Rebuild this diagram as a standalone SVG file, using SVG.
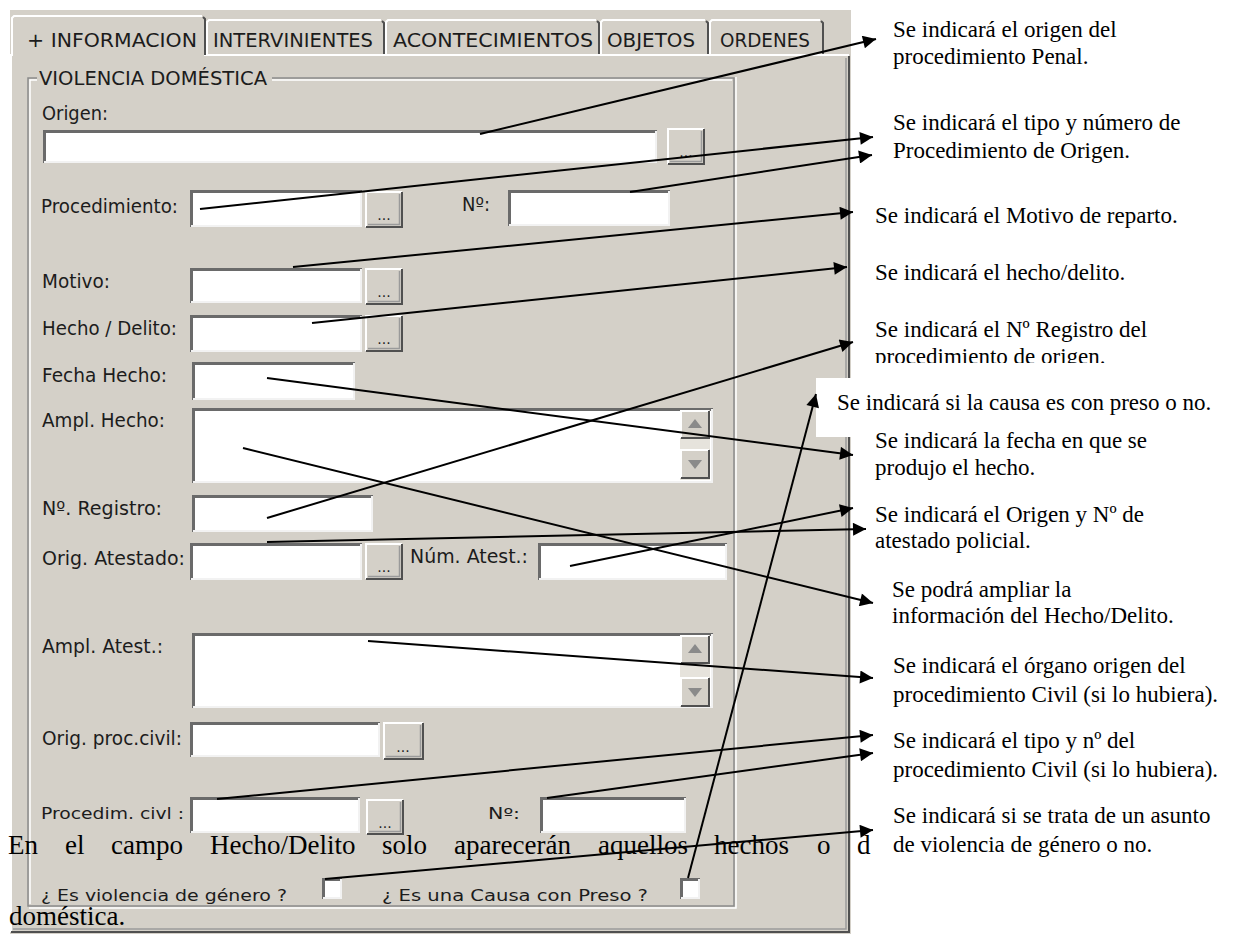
<svg xmlns="http://www.w3.org/2000/svg" width="1234" height="939" viewBox="0 0 1234 939">
  <defs>
    <style>
      .face { fill: #D4D0C8; }
      .ui { font-family: "DejaVu Sans", Tahoma, sans-serif; font-size: 19px; fill: #1c1c1c; }
      .ui-sm { font-family: "DejaVu Sans", Tahoma, sans-serif; font-size: 16px; fill: #1c1c1c; }
      .dots { font-family: "DejaVu Sans", Tahoma, sans-serif; font-size: 14px; fill: #222; text-anchor: middle; }
      .note { font-family: "Liberation Serif", "Times New Roman", serif; font-size: 23px; fill: #000; }
      .body { font-family: "Liberation Serif", "Times New Roman", serif; font-size: 27px; fill: #000; }
      .fw { fill: #ffffff; }
      .sunk-dk { fill: none; stroke: #6a6a6a; stroke-width: 3; }
      .sunk-lt { fill: none; stroke: #f2f2f2; stroke-width: 2; }
      .rais-lt { fill: none; stroke: #ffffff; stroke-width: 2; }
      .rais-dk { fill: none; stroke: #505050; stroke-width: 2; }
      .rais-md { fill: none; stroke: #9a9a9a; stroke-width: 1.5; }
      .etch-dk { fill: none; stroke: #8a8a8a; stroke-width: 1.5; }
      .etch-lt { fill: none; stroke: #ffffff; stroke-width: 1.5; }
      .conn { fill: none; stroke: #000; stroke-width: 2; marker-end: url(#arrow); }
      .track { fill: #E6E3DC; }
      .tri { fill: #8a8a8a; }
    </style>
    <marker id="arrow" viewBox="0 0 10 10" refX="10" refY="5" markerUnits="userSpaceOnUse" markerWidth="18" markerHeight="13" orient="auto">
      <path d="M0,0 L10,5 L0,10 z" fill="#000"/>
    </marker>
    <clipPath id="clip-reg">
      <rect x="860" y="340" width="374" height="23"/>
    </clipPath>
  </defs>

  <rect x="0" y="0" width="1234" height="939" fill="#ffffff"/>

  <!-- tab control window -->
  <g id="window">
    <rect class="face" x="10" y="10" width="841" height="924"/>
    <!-- tab page frame -->
    <path class="rais-lt" d="M11,932 V55 H12 M204,55 H849"/>
    <path class="rais-dk" d="M849,56 V932 H11"/>
    <path class="rais-md" d="M846,58 V929 H13"/>
  </g>

  <!-- tab headers -->
  <g id="tab-informacion">
    <path class="rais-lt" d="M12,56 V18 L14,16 H202"/>
    <path class="rais-dk" d="M203,17 L205,19 V55"/>
    <text class="ui" x="27" y="47" textLength="170" lengthAdjust="spacingAndGlyphs">+ INFORMACION</text>
  </g>
  <g id="tab-intervinientes">
    <path class="rais-lt" d="M207,54 V22 L209,20 H381"/>
    <path class="rais-dk" d="M382,21 L384,23 V54"/>
    <text class="ui" x="213" y="47" textLength="160" lengthAdjust="spacingAndGlyphs">INTERVINIENTES</text>
  </g>
  <g id="tab-acontecimientos">
    <path class="rais-lt" d="M386,54 V22 L388,20 H596"/>
    <path class="rais-dk" d="M597,21 L599,23 V54"/>
    <text class="ui" x="393" y="47" textLength="200" lengthAdjust="spacingAndGlyphs">ACONTECIMIENTOS</text>
  </g>
  <g id="tab-objetos">
    <path class="rais-lt" d="M601,54 V22 L603,20 H705"/>
    <path class="rais-dk" d="M706,21 L708,23 V54"/>
    <text class="ui" x="607" y="47" textLength="88" lengthAdjust="spacingAndGlyphs">OBJETOS</text>
  </g>
  <g id="tab-ordenes">
    <path class="rais-lt" d="M710,54 V22 L712,20 H820"/>
    <path class="rais-dk" d="M821,21 L823,23 V54"/>
    <text class="ui" x="720" y="47" textLength="90" lengthAdjust="spacingAndGlyphs">ORDENES</text>
  </g>

  <!-- group box -->
  <g id="group-violencia">
    <path class="etch-dk" d="M37,78 H28 V906 H734 V78 H272"/>
    <path class="etch-lt" d="M37,80 H30 V904 M29,908 H736 V77 M272,80 H732"/>
    <text class="ui" x="39" y="85" textLength="228" lengthAdjust="spacingAndGlyphs">VIOLENCIA DOMÉSTICA</text>
  </g>

  <!-- Origen -->
  <g id="field-origen">
    <text class="ui" x="42" y="120" textLength="66" lengthAdjust="spacingAndGlyphs">Origen:</text>
    <rect class="fw" x="43" y="130" width="614" height="33"/>
    <path class="sunk-dk" d="M44.5,163 V131.5 H657"/>
    <path class="sunk-lt" d="M44,162 H656 V131"/>
    <rect class="face" x="667" y="128" width="38" height="37"/>
    <path class="rais-lt" d="M668,164 V129 H704"/>
    <path class="rais-dk" d="M668,164 H704 V129"/>
    <path class="rais-md" d="M670,161.5 H701.5 V131"/>
    <text class="dots" x="686" y="157">...</text>
  </g>

  <!-- Procedimiento / Nº -->
  <g id="field-procedimiento">
    <text class="ui" x="41" y="213" textLength="137" lengthAdjust="spacingAndGlyphs">Procedimiento:</text>
    <rect class="fw" x="190" y="190" width="172" height="37"/>
    <path class="sunk-dk" d="M191.5,227 V191.5 H362"/>
    <path class="sunk-lt" d="M191,226 H361 V191"/>
    <rect class="face" x="365" y="191" width="38" height="37"/>
    <path class="rais-lt" d="M366,227 V192 H402"/>
    <path class="rais-dk" d="M366,227 H402 V192"/>
    <path class="rais-md" d="M368,224.5 H399.5 V194"/>
    <text class="dots" x="384" y="220">...</text>
  </g>
  <g id="field-procedimiento-num">
    <text class="ui" x="462" y="211" textLength="28" lengthAdjust="spacingAndGlyphs">Nº:</text>
    <rect class="fw" x="508" y="190" width="162" height="36"/>
    <path class="sunk-dk" d="M509.5,226 V191.5 H670"/>
    <path class="sunk-lt" d="M509,225 H669 V191"/>
  </g>

  <!-- Motivo -->
  <g id="field-motivo">
    <text class="ui" x="42" y="288" textLength="68" lengthAdjust="spacingAndGlyphs">Motivo:</text>
    <rect class="fw" x="190" y="268" width="172" height="35"/>
    <path class="sunk-dk" d="M191.5,303 V269.5 H362"/>
    <path class="sunk-lt" d="M191,302 H361 V269"/>
    <rect class="face" x="365" y="268" width="38" height="37"/>
    <path class="rais-lt" d="M366,304 V269 H402"/>
    <path class="rais-dk" d="M366,304 H402 V269"/>
    <path class="rais-md" d="M368,301.5 H399.5 V271"/>
    <text class="dots" x="384" y="297">...</text>
  </g>

  <!-- Hecho / Delito -->
  <g id="field-hecho">
    <text class="ui" x="42" y="335" textLength="135" lengthAdjust="spacingAndGlyphs">Hecho / Delito:</text>
    <rect class="fw" x="190" y="315" width="172" height="37"/>
    <path class="sunk-dk" d="M191.5,352 V316.5 H362"/>
    <path class="sunk-lt" d="M191,351 H361 V316"/>
    <rect class="face" x="365" y="315" width="38" height="37"/>
    <path class="rais-lt" d="M366,351 V316 H402"/>
    <path class="rais-dk" d="M366,351 H402 V316"/>
    <path class="rais-md" d="M368,348.5 H399.5 V318"/>
    <text class="dots" x="384" y="344">...</text>
  </g>

  <!-- Fecha Hecho -->
  <g id="field-fecha">
    <text class="ui" x="42" y="382" textLength="125" lengthAdjust="spacingAndGlyphs">Fecha Hecho:</text>
    <rect class="fw" x="192" y="362" width="163" height="38"/>
    <path class="sunk-dk" d="M193.5,400 V363.5 H355"/>
    <path class="sunk-lt" d="M193,399 H354 V363"/>
  </g>

  <!-- Ampl. Hecho -->
  <g id="field-ampl-hecho">
    <text class="ui" x="42" y="427" textLength="123" lengthAdjust="spacingAndGlyphs">Ampl. Hecho:</text>
    <rect class="fw" x="192" y="408" width="521" height="75"/>
    <path class="sunk-dk" d="M193.5,483 V409.5 H713"/>
    <path class="sunk-lt" d="M193,482 H712 V409"/>
    <rect class="track" x="680" y="410" width="30" height="70"/>
    <rect class="face" x="680" y="410" width="30" height="29"/>
    <path class="rais-lt" d="M681,438 V411 H709"/>
    <path class="rais-dk" d="M681,438 H709 V411"/>
    <path class="tri" d="M695,419 L688,428 H702 z"/>
    <rect class="face" x="680" y="449" width="30" height="30"/>
    <path class="rais-lt" d="M681,478 V450 H709"/>
    <path class="rais-dk" d="M681,478 H709 V450"/>
    <path class="tri" d="M695,469 L688,460 H702 z"/>
  </g>

  <!-- Nº. Registro -->
  <g id="field-registro">
    <text class="ui" x="42" y="515" textLength="120" lengthAdjust="spacingAndGlyphs">Nº. Registro:</text>
    <rect class="fw" x="192" y="495" width="181" height="37"/>
    <path class="sunk-dk" d="M193.5,532 V496.5 H373"/>
    <path class="sunk-lt" d="M193,531 H372 V496"/>
  </g>

  <!-- Orig. Atestado / Núm. Atest. -->
  <g id="field-orig-atestado">
    <text class="ui" x="42" y="565" textLength="143" lengthAdjust="spacingAndGlyphs">Orig. Atestado:</text>
    <rect class="fw" x="190" y="543" width="172" height="37"/>
    <path class="sunk-dk" d="M191.5,580 V544.5 H362"/>
    <path class="sunk-lt" d="M191,579 H361 V544"/>
    <rect class="face" x="365" y="543" width="38" height="37"/>
    <path class="rais-lt" d="M366,579 V544 H402"/>
    <path class="rais-dk" d="M366,579 H402 V544"/>
    <path class="rais-md" d="M368,576.5 H399.5 V546"/>
    <text class="dots" x="384" y="572">...</text>
  </g>
  <g id="field-num-atestado">
    <text class="ui" x="410" y="563" textLength="118" lengthAdjust="spacingAndGlyphs">Núm. Atest.:</text>
    <rect class="fw" x="538" y="543" width="189" height="37"/>
    <path class="sunk-dk" d="M539.5,580 V544.5 H727"/>
    <path class="sunk-lt" d="M539,579 H726 V544"/>
  </g>

  <!-- Ampl. Atest. -->
  <g id="field-ampl-atest">
    <text class="ui" x="42" y="653" textLength="121" lengthAdjust="spacingAndGlyphs">Ampl. Atest.:</text>
    <rect class="fw" x="192" y="633" width="521" height="75"/>
    <path class="sunk-dk" d="M193.5,708 V634.5 H713"/>
    <path class="sunk-lt" d="M193,707 H712 V634"/>
    <rect class="track" x="680" y="635" width="30" height="72"/>
    <rect class="face" x="680" y="635" width="30" height="29"/>
    <path class="rais-lt" d="M681,663 V636 H709"/>
    <path class="rais-dk" d="M681,663 H709 V636"/>
    <path class="tri" d="M695,644 L688,653 H702 z"/>
    <rect class="face" x="680" y="677" width="30" height="30"/>
    <path class="rais-lt" d="M681,706 V678 H709"/>
    <path class="rais-dk" d="M681,706 H709 V678"/>
    <path class="tri" d="M695,697 L688,688 H702 z"/>
  </g>

  <!-- Orig. proc. civil -->
  <g id="field-orig-proc-civil">
    <text class="ui" x="42" y="745" textLength="140" lengthAdjust="spacingAndGlyphs">Orig. proc.civil:</text>
    <rect class="fw" x="190" y="722" width="190" height="35"/>
    <path class="sunk-dk" d="M191.5,757 V723.5 H380"/>
    <path class="sunk-lt" d="M191,756 H379 V723"/>
    <rect class="face" x="383" y="722" width="41" height="38"/>
    <path class="rais-lt" d="M384,759 V723 H423"/>
    <path class="rais-dk" d="M384,759 H423 V723"/>
    <path class="rais-md" d="M386,756.5 H420.5 V725"/>
    <text class="dots" x="403" y="752">...</text>
  </g>

  <!-- Procedim. civil / Nº -->
  <g id="field-procedim-civil">
    <text class="ui-sm" x="41" y="819" textLength="143" lengthAdjust="spacingAndGlyphs">Procedim. civl :</text>
    <rect class="fw" x="190" y="797" width="170" height="36"/>
    <path class="sunk-dk" d="M191.5,833 V798.5 H360"/>
    <path class="sunk-lt" d="M191,832 H359 V798"/>
    <rect class="face" x="366" y="799" width="38" height="36"/>
    <path class="rais-lt" d="M367,834 V800 H403"/>
    <path class="rais-dk" d="M367,834 H403 V800"/>
    <path class="rais-md" d="M369,831.5 H400.5 V802"/>
    <text class="dots" x="385" y="828">...</text>
  </g>
  <g id="field-procedim-civil-num">
    <text class="ui-sm" x="488" y="819" textLength="32" lengthAdjust="spacingAndGlyphs">Nº:</text>
    <rect class="fw" x="540" y="797" width="146" height="36"/>
    <path class="sunk-dk" d="M541.5,833 V798.5 H686"/>
    <path class="sunk-lt" d="M541,832 H685 V798"/>
  </g>

  <!-- check boxes -->
  <g id="check-violencia">
    <text class="ui-sm" x="41" y="901" textLength="246" lengthAdjust="spacingAndGlyphs">¿ Es violencia de género ?</text>
    <rect class="fw" x="322" y="878" width="20" height="21"/>
    <path class="sunk-dk" d="M323.5,899 V879.5 H342"/>
    <path class="sunk-lt" d="M323,898 H341 V879"/>
  </g>
  <g id="check-preso">
    <text class="ui-sm" x="382" y="901" textLength="266" lengthAdjust="spacingAndGlyphs">¿ Es una Causa con Preso ?</text>
    <rect class="fw" x="680" y="878" width="20" height="21"/>
    <path class="sunk-dk" d="M681.5,899 V879.5 H700"/>
    <path class="sunk-lt" d="M681,898 H699 V879"/>
  </g>

  <!-- paragraph text over the screenshot (justified line) -->
  <g id="paragraph">
    <text class="body" y="854">
      <tspan x="8">En</tspan><tspan x="65">el</tspan><tspan x="111">campo</tspan><tspan x="210">Hecho/Delito</tspan><tspan x="382">solo</tspan><tspan x="454">aparecerán</tspan><tspan x="598">aquellos</tspan><tspan x="714">hechos</tspan><tspan x="817">o</tspan><tspan x="857">d</tspan>
    </text>
    <text class="body" x="9" y="925">doméstica.</text>
  </g>

  <!-- annotations -->
  <g id="note-origen">
    <text class="note" x="893" y="37">Se indicará el origen del</text>
    <text class="note" x="893" y="64">procedimiento Penal.</text>
  </g>
  <g id="note-procedimiento">
    <text class="note" x="893" y="130">Se indicará el tipo y número de</text>
    <text class="note" x="893" y="158">Procedimiento de Origen.</text>
  </g>
  <g id="note-motivo">
    <text class="note" x="875" y="223">Se indicará el Motivo de reparto.</text>
  </g>
  <g id="note-hecho">
    <text class="note" x="875" y="280">Se indicará el hecho/delito.</text>
  </g>
  <g id="note-registro">
    <text class="note" x="875" y="337">Se indicará el Nº Registro del</text>
    <text class="note" x="875" y="364" clip-path="url(#clip-reg)">procedimiento de origen.</text>
  </g>
  <g id="note-preso">
    <rect x="816" y="378" width="418" height="59" fill="#ffffff"/>
    <text class="note" x="837" y="410">Se indicará si la causa es con preso o no.</text>
  </g>
  <g id="note-fecha">
    <text class="note" x="875" y="448">Se indicará la fecha en que se</text>
    <text class="note" x="875" y="475">produjo el hecho.</text>
  </g>
  <g id="note-atestado">
    <text class="note" x="875" y="522">Se indicará el Origen y Nº de</text>
    <text class="note" x="875" y="548">atestado policial.</text>
  </g>
  <g id="note-ampliar">
    <text class="note" x="892" y="597">Se podrá ampliar la</text>
    <text class="note" x="892" y="623">información del Hecho/Delito.</text>
  </g>
  <g id="note-organo-civil">
    <text class="note" x="893" y="673">Se indicará el órgano origen del</text>
    <text class="note" x="893" y="702">procedimiento Civil (si lo hubiera).</text>
  </g>
  <g id="note-tipo-civil">
    <text class="note" x="893" y="748">Se indicará el tipo y nº del</text>
    <text class="note" x="893" y="777">procedimiento Civil (si lo hubiera).</text>
  </g>
  <g id="note-violencia">
    <text class="note" x="893" y="823">Se indicará si se trata de un asunto</text>
    <text class="note" x="893" y="852">de violencia de género o no.</text>
  </g>

  <!-- connectors -->
  <g id="connectors">
    <line class="conn" x1="480" y1="134" x2="876" y2="39"/>
    <line class="conn" x1="200" y1="209" x2="873" y2="137"/>
    <line class="conn" x1="630" y1="192" x2="872" y2="155"/>
    <line class="conn" x1="293" y1="267" x2="853" y2="212"/>
    <line class="conn" x1="312" y1="323" x2="847" y2="267"/>
    <line class="conn" x1="267" y1="518" x2="853" y2="342"/>
    <line class="conn" x1="267" y1="378" x2="853" y2="455"/>
    <line class="conn" x1="243" y1="448" x2="873" y2="603"/>
    <line class="conn" x1="570" y1="566" x2="853" y2="508"/>
    <line class="conn" x1="267" y1="542" x2="866" y2="529"/>
    <line class="conn" x1="368" y1="641" x2="873" y2="678"/>
    <line class="conn" x1="217" y1="799" x2="873" y2="735"/>
    <line class="conn" x1="547" y1="798" x2="873" y2="753"/>
    <line class="conn" x1="325" y1="879" x2="873" y2="830"/>
    <line class="conn" x1="688" y1="878" x2="816" y2="394"/>
  </g>
</svg>
